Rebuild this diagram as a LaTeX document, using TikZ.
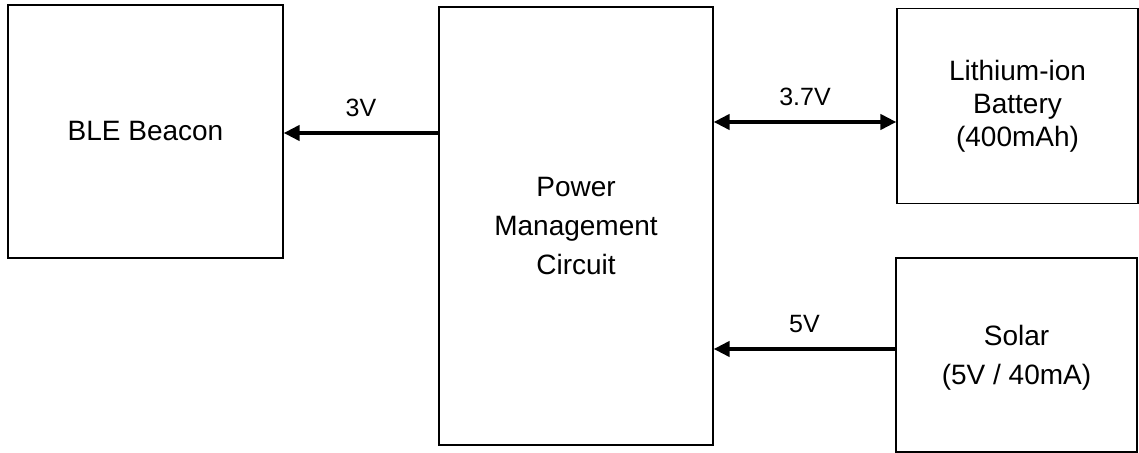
\documentclass[tikz,border=0pt]{standalone}
\usepackage{fontspec}
\setmainfont{Liberation Sans}
\usetikzlibrary{arrows.meta}

\tikzset{
  block/.style={draw, line width=0.6pt, align=center, inner sep=0pt,
    font=\fontsize{14}{19.5}\selectfont},
  pwr/.style={line width=2pt, -{Triangle[length=8pt,width=7.5pt]}},
  volt/.style={font=\fontsize{12.5}{15}\selectfont, inner sep=0pt, above=7pt}
}

\begin{document}
\begin{tikzpicture}[x=0.5pt, y=-0.5pt]
            \useasboundingbox (0,0) rectangle (1139,453);
            % Blocks
            \node[block, minimum width=137.5pt, minimum height=126.5pt] (ble) at (145.5,131.5) {BLE Beacon};
            \node[block, minimum width=137pt, minimum height=219pt] (pmc) at (576,226) {Power\\Management\\Circuit};
            \node[block, minimum width=120.5pt, minimum height=97.5pt, font=\fontsize{14}{16.5}\selectfont] (bat) at (1017.5,106) {Lithium-ion\\Battery\\(400mAh)};
            \node[block, minimum width=120.5pt, minimum height=97pt, text depth=-4pt] (sol) at (1016.5,355) {Solar\\(5V / 40mA)};
            % Power lines
            \draw[pwr] (pmc.west |- 0,133) -- node[volt] (v3) {3V} (ble.east |- 0,133);
            \draw[pwr, {Triangle[length=8pt,width=7.5pt]}-{Triangle[length=8pt,width=7.5pt]}] (pmc.east |- 0,122) -- node[volt] (v37) {3.7V} (bat.west |- 0,122);
            \draw[pwr] (sol.west |- 0,349) -- node[volt] (v5) {5V} (pmc.east |- 0,349);
\end{tikzpicture}
\end{document}
